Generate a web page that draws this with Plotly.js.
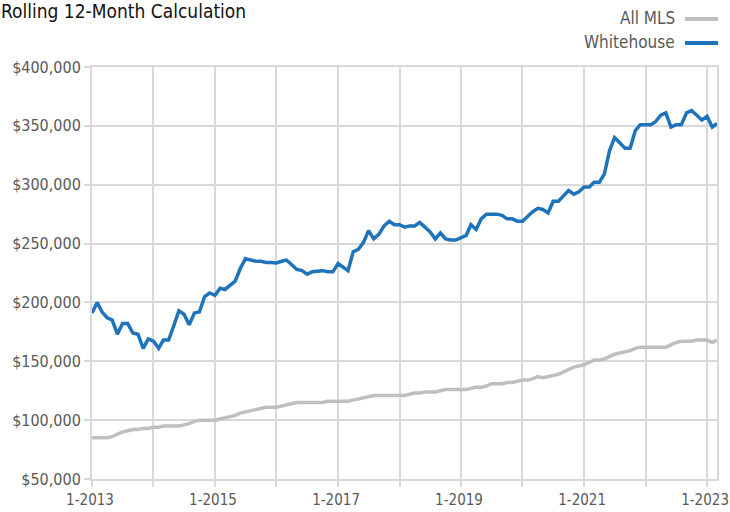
<!DOCTYPE html>
<html>
<head>
<meta charset="utf-8">
<script src="https://cdn.plot.ly/plotly-3.0.1.min.js"></script>
<style>html,body{margin:0;padding:0;background:#fff;} #chart{width:730px;height:512px;}</style>
</head>
<body>
<div id="chart"></div>
<script>
// Monthly dates Jan 2013 .. Mar 2023
const startYear = 2013;
const monthCount = 123;
const months = [];
for (let i = 0; i < monthCount; i++) {
  const y = startYear + Math.floor(i / 12);
  const m = (i % 12) + 1;
  months.push(y + '-' + (m < 10 ? '0' + m : m) + '-01');
}

// Values in $ thousands
const whitehouse = [
  191, 200, 192, 187, 185, 173, 182, 182, 174, 173, 161, 169,
  167, 161, 168, 168, 180, 193, 190, 181, 191, 192, 205, 208,
  206, 212, 211, 215, 218, 229, 237, 236, 235, 235, 234, 234,
  233.5, 235, 236, 232, 228, 227, 224, 226, 226.5, 227, 226, 226,
  233, 230, 227, 243, 245, 251, 261, 254, 258, 265, 269, 266,
  266, 264, 265, 265, 268, 264, 260, 254, 259, 254, 253, 253,
  255, 257, 266, 262, 271, 275, 275, 275, 274, 271, 271, 269,
  269, 273, 277, 280, 279, 276, 286, 286, 291, 295, 292, 294,
  298, 298, 302, 302, 309, 329, 340, 336, 331, 331, 346, 351,
  351, 351, 353.5, 359, 361, 349, 351, 351, 361, 363, 359, 355,
  358, 349, 352
];
const allMLS = [
  85, 85, 85, 85, 86, 88, 90, 91, 92, 92, 93, 93,
  94, 94, 95, 95, 95, 95, 96, 97, 99, 100, 100, 100,
  100, 101, 102, 103, 104, 106, 107, 108, 109, 110, 111, 111,
  111, 112, 113, 114, 115, 115, 115, 115, 115, 115, 116, 116,
  116, 116, 116, 117, 118, 119, 120, 121, 121, 121, 121, 121,
  121, 121, 122, 123, 123, 124, 124, 124, 125, 126, 126, 126,
  126, 126, 127, 128, 128, 129, 131, 131, 131, 132, 132, 133,
  134, 134, 135, 137, 136, 137, 138, 139, 141, 143, 145, 146,
  147, 149, 151, 151, 152, 154, 156, 157, 158, 159, 161, 162,
  162, 162, 162, 162, 162, 164, 166, 167, 167, 167, 168, 168,
  168, 166, 168
];
const seriesNames = ['All MLS', 'Whitehouse'];
const seriesColors = ['#bfbfbf', '#1f73bb'];
const titleText = 'Rolling 12-Month Calculation';

const FONT = '"DejaVu Sans Condensed", "Liberation Sans Narrow", Arial, sans-serif';
const GRID = '#d9d9d9';

const traces = [
  {x: months, y: allMLS.map(v => v * 1000), name: seriesNames[0], type: 'scatter', mode: 'lines',
   line: {color: seriesColors[0], width: 3.5}, hoverinfo: 'skip'},
  {x: months, y: whitehouse.map(v => v * 1000), name: seriesNames[1], type: 'scatter', mode: 'lines',
   line: {color: seriesColors[1], width: 3.5}, hoverinfo: 'skip'}
];

// Legend drawn as text + line samples (text to the left of the sample, as in the reference)
const legendAnn = seriesNames.map((n, i) => ({
  xref: 'paper', yref: 'paper', x: (677 - 92) / 625, y: 1 + (67 - (18 + 24 * i)) / 412,
  xanchor: 'right', yanchor: 'middle', text: n, showarrow: false,
  font: {family: FONT, size: 17, color: '#595959'}
}));
const legendShapes = seriesNames.map((n, i) => ({
  type: 'line', xref: 'paper', yref: 'paper',
  x0: (685 - 92) / 625, x1: (718 - 92) / 625,
  y0: 1 + (67 - (19 + 24 * i)) / 412, y1: 1 + (67 - (19 + 24 * i)) / 412,
  line: {color: seriesColors[i], width: 4}
}));

const layout = {
  width: 730, height: 512,
  margin: {l: 92, r: 13, t: 67, b: 33},
  paper_bgcolor: '#fff', plot_bgcolor: '#fff',
  showlegend: false,
  title: {text: titleText, xref: 'container', yref: 'container', x: 1 / 730, xanchor: 'left',
          y: 1 - 11 / 512, yanchor: 'middle', font: {family: FONT, size: 19, color: '#111'}},
  font: {family: FONT, size: 14, color: '#595959'},
  xaxis: {
    type: 'date', range: ['2013-01-01', '2023-03-01'],
    tick0: '2013-01-01', dtick: 'M24', tickformat: '%-m-%Y',
    ticklabeloverflow: 'allow', ticklabelshift: -2,
    showgrid: true, gridcolor: GRID, gridwidth: 2,
    ticks: 'outside', ticklen: 6, tickcolor: GRID, tickwidth: 2,
    minor: {dtick: 'M12', tick0: '2013-01-01', showgrid: true, gridcolor: GRID, gridwidth: 2,
            ticks: 'outside', ticklen: 6, tickcolor: GRID, tickwidth: 2},
    showline: true, linecolor: GRID, linewidth: 2, mirror: true,
    zeroline: false, fixedrange: true,
    tickfont: {family: FONT, size: 15, color: '#595959'}
  },
  yaxis: {
    range: [50000, 400000], dtick: 50000, tick0: 50000, tickformat: '$,.0f',
    ticklabeloverflow: 'allow',
    showgrid: true, gridcolor: GRID, gridwidth: 2,
    ticks: 'outside', ticklen: 6, tickcolor: GRID, tickwidth: 2,
    showline: true, linecolor: GRID, linewidth: 2, mirror: true,
    zeroline: false, fixedrange: true,
    tickfont: {family: FONT, size: 16, color: '#595959'}
  },
  annotations: legendAnn,
  shapes: legendShapes
};

Plotly.newPlot('chart', traces, layout, {staticPlot: true, displayModeBar: false});
</script>
</body>
</html>
